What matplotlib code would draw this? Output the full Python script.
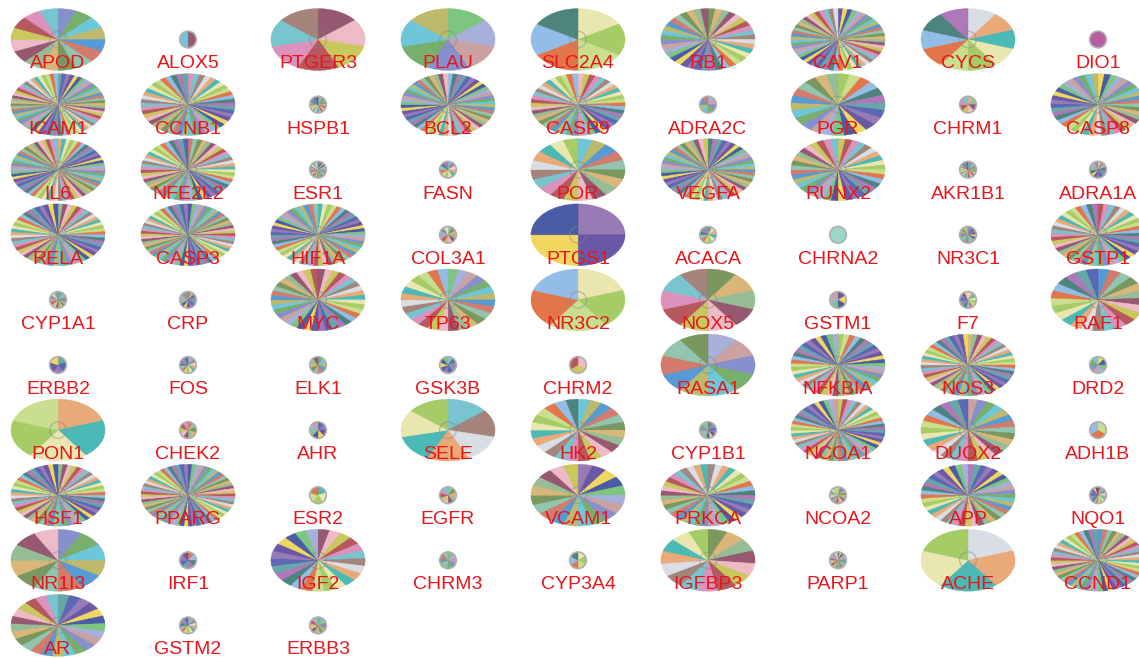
import matplotlib
matplotlib.use('Agg')
import matplotlib.pyplot as plt
from matplotlib.patches import Ellipse, Circle

W, H = 1139, 659

# node names, row by row (9 per row)
genes = [
    'APOD', 'ALOX5', 'PTGER3', 'PLAU', 'SLC2A4', 'RB1', 'CAV1', 'CYCS', 'DIO1',
    'ICAM1', 'CCNB1', 'HSPB1', 'BCL2', 'CASP9', 'ADRA2C', 'PGR', 'CHRM1', 'CASP8',
    'IL6', 'NFE2L2', 'ESR1', 'FASN', 'POR', 'VEGFA', 'RUNX2', 'AKR1B1', 'ADRA1A',
    'RELA', 'CASP3', 'HIF1A', 'COL3A1', 'PTGS1', 'ACACA', 'CHRNA2', 'NR3C1', 'GSTP1',
    'CYP1A1', 'CRP', 'MYC', 'TP63', 'NR3C2', 'NOX5', 'GSTM1', 'F7', 'RAF1',
    'ERBB2', 'FOS', 'ELK1', 'GSK3B', 'CHRM2', 'RASA1', 'NFKBIA', 'NOS3', 'DRD2',
    'PON1', 'CHEK2', 'AHR', 'SELE', 'HK2', 'CYP1B1', 'NCOA1', 'DUOX2', 'ADH1B',
    'HSF1', 'PPARG', 'ESR2', 'EGFR', 'VCAM1', 'PRKCA', 'NCOA2', 'APP', 'NQO1',
    'NR1I3', 'IRF1', 'IGF2', 'CHRM3', 'CYP3A4', 'IGFBP3', 'PARP1', 'ACHE', 'CCND1',
    'AR', 'GSTM2', 'ERBB3',
]

# number of pie slices per node
slices = [
    16, 2, 7, 7, 6, 40, 60, 10, 1,
    70, 50, 30, 60, 50, 8, 25, 8, 45,
    70, 60, 30, 12, 20, 60, 40, 30, 15,
    60, 70, 60, 12, 4, 12, 1, 20, 50,
    20, 15, 40, 28, 5, 10, 6, 15, 25,
    5, 15, 10, 10, 3, 10, 50, 60, 8,
    5, 10, 8, 7, 24, 15, 60, 30, 3,
    60, 70, 5, 10, 20, 40, 20, 45, 20,
    12, 8, 25, 10, 6, 15, 25, 5, 60,
    25, 15, 15,
]

# 1 = large node, 0 = small node
large = [
    1, 0, 1, 1, 1, 1, 1, 1, 0,
    1, 1, 0, 1, 1, 0, 1, 0, 1,
    1, 1, 0, 0, 1, 1, 1, 0, 0,
    1, 1, 1, 0, 1, 0, 0, 0, 1,
    0, 0, 1, 1, 1, 1, 0, 0, 1,
    0, 0, 0, 0, 0, 1, 1, 1, 0,
    1, 0, 0, 1, 1, 0, 1, 1, 0,
    1, 1, 0, 0, 1, 1, 0, 1, 0,
    1, 0, 1, 0, 0, 1, 0, 1, 1,
    1, 0, 0,
]

palette = ['#7b87c8', '#8f6fb0', '#c6dc86', '#6cc0cc', '#d8b070', '#6ca860',
           '#5b4a9e', '#e06a3c', '#9c7a70', '#8eb88e', '#62c2d6', '#f0d452',
           '#8ab8e4', '#d6dce2', '#8e4a66', '#b8b462', '#3c4ea0', '#3e7a72',
           '#e8a26e', '#ecb4c0', '#4a92d0', '#72c274', '#a86cb4', '#3cb4b0',
           '#c4c44e', '#d07060', '#a0a8d8', '#5aa0a0', '#e8e4a8', '#b04a50',
           '#88c0a8', '#c79a9a', '#4e5ab0', '#9ec85a', '#d88ab8', '#6e8e50']

# single-colour nodes
solid = {'DIO1': '#b24f9c', 'CHRNA2': '#92d2c2', 'ALOX5': None}
two_tone = ['#8e4a66', '#5fc2d4']

fig = plt.figure(figsize=(W / 100, H / 100), dpi=100)
fig.patch.set_facecolor('white')

x0, dx = 58, 130
y0, dy = 39.5, 65.1
LW, LH = 96, 63
SD = 17

for k, (name, n, big) in enumerate(zip(genes, slices, large)):
    cx = x0 + dx * (k % 9)
    cy = y0 + dy * (k // 9)
    w, h = (LW, LH) if big else (SD, SD)
    ax = fig.add_axes([(cx - w / 2) / W, 1 - (cy + h / 2) / H, w / W, h / H])
    off = (k * 7) % len(palette)
    cols = [palette[(off + i * 5) % len(palette)] for i in range(n)]
    if solid.get(name):
        cols = [solid[name]]
    elif name == 'ALOX5':
        cols = two_tone
    wedges, _ = ax.pie([1] * n, colors=cols, startangle=90, counterclock=False,
                       wedgeprops=dict(linewidth=0.3, alpha=0.92))
    for wd in wedges:
        wd.set_edgecolor(wd.get_facecolor())
    ax.set_aspect('auto')
    ax.set_xlim(-1.02, 1.02)
    ax.set_ylim(-1.02, 1.02)
    ax.axis('off')
    if big:
        # faint node outline at the hub
        ax.add_patch(Ellipse((0, 0), 17 / (LW / 2), 17 / (LH / 2),
                             fill=False, edgecolor='#888888', alpha=0.45, lw=1))
    else:
        ax.add_patch(Circle((0, 0), 1.0, fill=False, edgecolor='#b0b0b0',
                            lw=1.2, clip_on=False))
    fig.text(cx / W, 1 - (cy + 29) / H, name, ha='center', va='baseline',
             color='#e8151b', fontsize=14, family='Liberation Sans')

fig.savefig('out.png', dpi=100)
